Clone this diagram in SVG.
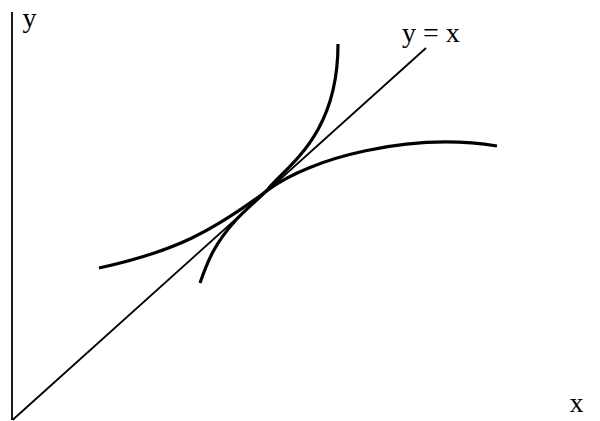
<svg xmlns="http://www.w3.org/2000/svg" width="600" height="421" viewBox="0 0 600 421">
<style>
.t{font-family:"Liberation Serif","Times New Roman",serif;font-size:28px;fill:#000}
.c{fill:none;stroke:#000;stroke-width:3.2;stroke-linecap:butt}
.l{fill:none;stroke:#000;stroke-width:1.8}
</style>
<rect width="600" height="421" fill="#fff"/>
<g id="axes">
<line class="l" x1="12" y1="12" x2="12" y2="420" stroke-width="2"/>
<text class="t" x="22.5" y="27">y</text>
<text class="t" x="569.5" y="412">x</text>
</g>
<g id="connectors">
<line id="diag" class="l" x1="12.5" y1="420" x2="426" y2="48"/>
<text class="t" x="402" y="42">y = x</text>
<path id="curve1" class="c" d="M99,268 C175,251.5 213,231 268,190 C310,158 410,132 497,146"/>
<path id="curve2" class="c" d="M200,283 C208,260 215,243 236,220 C248,207 258,200 268,189 C288,165 338,135 338,44"/>
</g>
</svg>
